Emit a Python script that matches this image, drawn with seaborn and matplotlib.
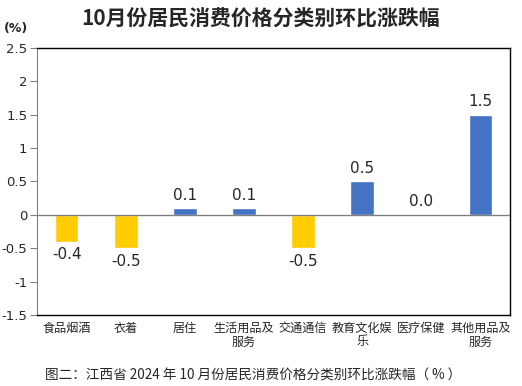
import matplotlib
matplotlib.use("Agg")
import matplotlib.pyplot as plt
import seaborn as sns
import pandas as pd

# ==========================================
# DATA
# ==========================================
categories = ["食品烟酒", "衣着", "居住", "生活用品及\n服务", "交通通信",
              "教育文化娱\n乐", "医疗保健", "其他用品及\n服务"]
values = [-0.4, -0.5, 0.1, 0.1, -0.5, 0.5, 0.0, 1.5]
yticks = [-1.5, -1, -0.5, 0, 0.5, 1, 1.5, 2, 2.5]
ytick_labels = ["-1.5", "-1", "-0.5", "0", "0.5", "1", "1.5", "2", "2.5"]

df = pd.DataFrame({"cat": categories, "val": values})
df["sign"] = ["neg" if v < 0 else "pos" for v in values]

sns.set_style("white")
plt.rcParams["font.family"] = ["Noto Sans CJK SC", "DejaVu Sans"]

fig = plt.figure(figsize=(5.22, 3.86), dpi=100)
ax = fig.add_axes([0.0709, 0.184, 0.906, 0.692])

sns.barplot(data=df, x="cat", y="val", hue="sign",
            palette={"neg": "#FFCC00", "pos": "#4472C4"}, saturation=1,
            dodge=False, width=0.4, legend=False, ax=ax)

ax.axhline(0, color="#808080", lw=1, zorder=1)
ax.set_ylim(-1.5, 2.5)
ax.set_xlim(-0.5, len(categories) - 0.5)
ax.set_yticks(yticks)
ax.set_yticklabels(ytick_labels, fontsize=9.5, family="DejaVu Sans")
ax.tick_params(axis="y", length=5, color="#808080", direction="out", left=True, pad=2)
ax.tick_params(axis="x", length=0, labelsize=8.7, pad=5)
for lbl in ax.get_xticklabels():
    lbl.set_linespacing(1.05)
ax.set_xlabel("")
ax.set_ylabel("")

for side in ["top", "right", "bottom"]:
    ax.spines[side].set_color("black")
    ax.spines[side].set_linewidth(1)
ax.spines["left"].set_color("#808080")

for i, v in enumerate(values):
    if v < 0:
        ax.text(i, v - 0.08, f"{v:.1f}", ha="center", va="top", fontsize=11,
                family="DejaVu Sans")
    else:
        ax.text(i, v + 0.08, f"{v:.1f}", ha="center", va="bottom", fontsize=11,
                family="DejaVu Sans")

fig.text(0.5, 0.952, "10月份居民消费价格分类别环比涨跌幅", ha="center", va="center",
         fontsize=15, fontweight="bold")
fig.text(0.008, 0.925, "(%)", ha="left", va="center", fontsize=9,
         fontweight="bold", family="DejaVu Sans")
fig.text(0.086, 0.028, "图二：江西省 2024 年 10 月份居民消费价格分类别环比涨跌幅（ % ）",
         ha="left", va="center", fontsize=9.8)

fig.savefig("out.png", dpi=100)
